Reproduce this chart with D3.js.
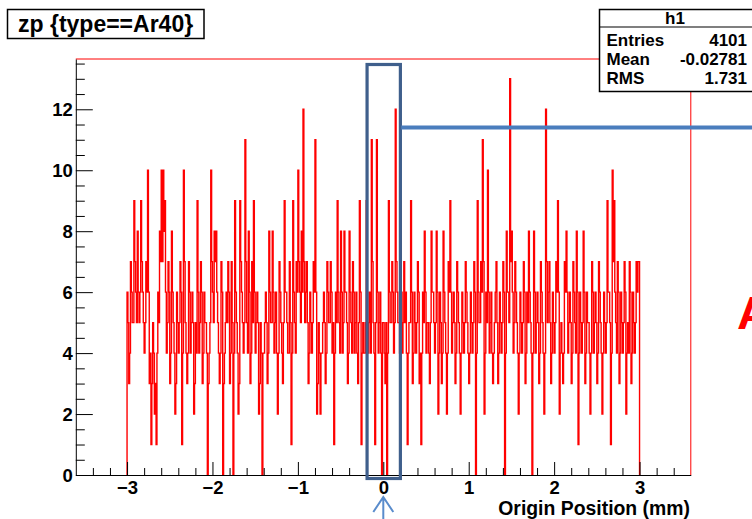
<!DOCTYPE html>
<html>
<head>
<meta charset="utf-8">
<script src="https://cdn.jsdelivr.net/npm/d3@7/dist/d3.min.js"></script>
<style>
  html, body { margin: 0; padding: 0; background: #fff; overflow: hidden; }
  svg { display: block; }
  text { font-family: "Liberation Sans", Arial, Helvetica, sans-serif; font-weight: bold; }
</style>
</head>
<body>
<svg id="chart" width="752" height="519"></svg>
<script>
// ---- data ----
const histTitle = "zp {type==Ar40}";
const histName = "h1";
const statsLabels = ["Entries", "Mean", "RMS"];
const statsValues = ["4101", "-0.02781", "1.731"];
const xAxisTitle = "Origin Position (mm)";
const xTicks = [-3, -2, -1, 0, 1, 2, 3];
const yTicks = [0, 2, 4, 6, 8, 10, 12];
const xDomain = [-3.6, 3.6];
const yDomain = [0, 13.65];
const binLow = -3, binHigh = 3;
// bin contents (600 bins from -3 to 3)
const counts = [
  6,5,3,4,7,6,5,5,9,7,6,5,8,6,5,6,9,7,6,5,4,5,7,6,10,6,3,4,1,3,5,4,2,3,1,4,6,5,8,7,
  10,7,10,8,9,6,4,5,7,6,3,4,8,6,5,4,2,3,6,5,4,5,7,6,1,4,10,7,5,4,3,4,7,6,4,5,6,5,2,3,
  5,4,9,6,4,5,7,6,3,4,6,5,5,4,0,3,4,5,10,7,6,5,8,7,8,6,5,4,3,4,7,6,0,3,4,5,6,5,7,6,
  3,4,7,5,0,4,9,6,5,4,2,3,9,7,6,5,4,5,11,7,5,4,8,6,3,4,7,5,9,6,4,5,6,5,2,3,5,4,0,4,
  4,5,6,5,3,4,8,6,5,5,8,6,4,5,6,4,2,4,7,6,5,4,3,5,9,6,6,5,4,4,7,5,1,4,9,6,5,4,7,6,
  10,7,6,5,8,6,12,7,5,6,7,5,3,4,6,5,4,5,7,6,11,6,2,3,5,4,2,4,4,5,6,5,3,4,7,6,5,5,7,6,
  4,5,1,4,6,5,9,6,5,4,8,6,4,5,8,6,6,5,3,4,8,6,5,4,7,6,4,5,6,4,3,5,9,6,1,4,5,4,4,5,
  9,6,4,5,6,4,11,7,5,4,1,5,11,6,4,5,6,4,0,5,5,4,3,5,0,4,9,6,5,5,7,6,4,5,12,7,6,5,5,4,
  9,6,4,5,7,5,6,4,1,4,5,5,9,6,3,4,6,5,4,5,7,6,3,4,1,4,6,5,8,6,4,5,5,4,3,5,8,6,6,5,
  4,5,8,6,2,4,6,5,3,4,8,6,5,4,2,4,7,6,9,6,4,5,6,5,3,4,7,6,5,4,2,4,6,5,4,5,7,6,5,4,
  3,4,6,5,4,5,7,6,0,4,9,6,5,5,7,6,11,7,2,4,6,5,10,6,4,5,6,4,3,4,5,6,7,5,3,4,6,5,4,5,
  7,6,0,4,8,6,6,5,13,7,8,6,4,5,7,6,5,4,2,4,6,5,4,5,7,6,3,4,6,5,8,6,5,4,0,4,8,6,4,5,
  6,5,3,4,7,6,5,4,2,4,12,7,5,6,7,5,3,4,6,5,4,5,7,6,9,6,2,4,5,4,3,4,7,6,8,6,4,5,6,5,
  3,4,7,6,5,4,8,6,1,4,6,5,4,5,8,6,3,4,6,5,5,4,2,4,7,6,4,5,6,5,3,4,7,6,5,4,2,4,6,5,
  4,5,9,6,6,5,1,4,10,7,9,6,5,4,7,6,3,4,6,5,4,5,7,6,2,4,5,4,7,6,3,4,6,5,4,5,7,6,7,7
];

// ---- layout ----
const svg = d3.select("#chart");
const frame = { left: 75.8, right: 690.8, top: 59, bottom: 475 };

const x = d3.scaleLinear().domain(xDomain).range([frame.left, frame.right]);
const y = d3.scaleLinear().domain(yDomain).range([frame.bottom, frame.top]);
const binScale = d3.scaleLinear().domain([0, counts.length]).range([binLow, binHigh]);

// frame (top & right in red)
svg.append("path")
  .attr("d", `M${frame.left},${frame.top}H${frame.right}V${frame.bottom}`)
  .attr("fill", "none").attr("stroke", "#ff0000").attr("stroke-width", 1);

// histogram step outline
const pts = [[binLow, 0]];
counts.forEach((c, i) => pts.push([binScale(i), c]));
pts.push([binHigh, counts[counts.length - 1]]);
pts.push([binHigh, 0]);
const line = d3.line().x(d => x(d[0])).y(d => y(d[1])).curve(d3.curveStepAfter);
svg.append("path")
  .attr("d", line(pts))
  .attr("fill", "none").attr("stroke", "#ff0000").attr("stroke-width", 1.4);

// axes
const labelFont = 18.5;
const yMinor = d3.range(0, 13.51, 0.5).filter(v => v % 2 !== 0);
const xMinor = d3.range(-3.4, 3.41, 0.2).map(v => Math.round(v * 10) / 10).filter(v => Math.abs(v - Math.round(v)) > 1e-6);

const gyMinor = svg.append("g").attr("transform", `translate(${frame.left},0)`)
  .call(d3.axisLeft(y).tickValues(yMinor).tickSize(-9).tickSizeOuter(0).tickFormat(""));
gyMinor.select(".domain").remove();

const gy = svg.append("g").attr("transform", `translate(${frame.left},0)`)
  .call(d3.axisLeft(y).tickValues(yTicks).tickSize(-17).tickSizeOuter(0).tickPadding(3));
gy.selectAll("text").attr("font-size", labelFont).attr("font-family", null).attr("dy", "0.36em");

const gxMinor = svg.append("g").attr("transform", `translate(0,${frame.bottom})`)
  .call(d3.axisBottom(x).tickValues(xMinor).tickSize(-7).tickSizeOuter(0).tickFormat(""));
gxMinor.select(".domain").remove();

const gx = svg.append("g").attr("transform", `translate(0,${frame.bottom})`)
  .call(d3.axisBottom(x).tickValues(xTicks).tickSize(-13).tickSizeOuter(0).tickPadding(6).tickFormat(d3.format("d")));
gx.selectAll("text").attr("font-size", labelFont).attr("font-family", null);

svg.selectAll(".domain, .tick line").attr("stroke", "#000").attr("stroke-width", 1);
svg.selectAll(".tick text").attr("fill", "#000").attr("font-weight", "bold");

// x axis title
svg.append("text")
  .attr("x", 690).attr("y", 515)
  .attr("text-anchor", "end").attr("font-size", 19.4)
  .text(xAxisTitle);

// title box
svg.append("rect")
  .attr("x", 7.5).attr("y", 9.5).attr("width", 196.5).attr("height", 29)
  .attr("fill", "#fff").attr("stroke", "#000").attr("stroke-width", 1.5);
svg.append("text")
  .attr("x", 18).attr("y", 31.5).attr("font-size", 23)
  .text(histTitle);

// stats box
const sb = svg.append("g");
sb.append("rect")
  .attr("x", 599.5).attr("y", 9.5).attr("width", 160).attr("height", 82)
  .attr("fill", "#fff").attr("stroke", "#000").attr("stroke-width", 1.5);
sb.append("line")
  .attr("x1", 599.5).attr("x2", 760).attr("y1", 27).attr("y2", 27)
  .attr("stroke", "#000").attr("stroke-width", 1.2);
sb.append("text")
  .attr("x", 675).attr("y", 24).attr("text-anchor", "middle").attr("font-size", 17)
  .text(histName);
const rowY = [45.5, 65, 83.5];
statsLabels.forEach((lab, i) => {
  sb.append("text").attr("x", 606.5).attr("y", rowY[i]).attr("font-size", 17).text(lab);
  sb.append("text").attr("x", 747).attr("y", rowY[i]).attr("text-anchor", "end").attr("font-size", 17).text(statsValues[i]);
});

// cut-off red letter at right edge (as in the reference)
svg.append("text")
  .attr("x", 737).attr("y", 329).attr("font-size", 47).attr("font-weight", "normal")
  .attr("fill", "#ff0000").text("A");

// blue annotations
svg.append("rect")
  .attr("x", x(-0.19)).attr("y", 64.5)
  .attr("width", x(0.2) - x(-0.19)).attr("height", 414)
  .attr("fill", "none").attr("stroke", "#3f5f8c").attr("stroke-width", 3.2);
svg.append("line")
  .attr("x1", x(0.21)).attr("x2", 752).attr("y1", 127.5).attr("y2", 127.5)
  .attr("stroke", "#4a7dbd").attr("stroke-width", 4);
svg.append("path")
  .attr("d", `M${x(0) - 10},${512} L${x(0)},${497} L${x(0) + 10},${512} M${x(0)},${497} V519`)
  .attr("fill", "none").attr("stroke", "#5a8ccc").attr("stroke-width", 2);
</script>
</body>
</html>
